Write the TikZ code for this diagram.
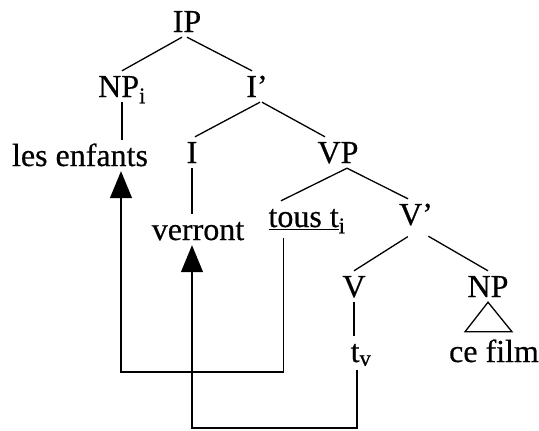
\documentclass[tikz,border=0pt]{standalone}
\usepackage{fontspec}
\setmainfont{Liberation Serif}[FakeBold=0.5]
\usetikzlibrary{positioning,calc,arrows.meta}

\begin{document}
\begin{tikzpicture}[x=1pt, y=-1pt,
    word/.style={font=\fontsize{32}{38}\selectfont, anchor=base, inner xsep=0pt, inner ysep=5pt, text height=21pt, text depth=0pt},
    branch/.style={line width=1.3pt},
    move/.style={line width=1.3pt, -{Triangle[width=22pt,length=27pt]}}]
    \useasboundingbox (0,0) rectangle (539,431);

    % Nodes
    \node[word] (IP) at (187,32) {IP};
    \node[word] (NPi) at (122,97) {NP\textsubscript{i}};
    \node[word] (Ibar) at (257,97) {I’};
    \node[word] (les) at (80,166) {les enfants};
    \node[word] (I) at (192,163) {I};
    \node[word] (VP) at (338,163) {VP};
    \node[word] (verront) at (198,240) {verront};
    \node[word] (tous) at (307,227) {\underline{tous t}\textsubscript{i}};
    \node[word] (Vbar) at (416,225) {V’};
    \node[word] (V) at (354,297) {V};
    \node[word] (NP) at (488,297) {NP};
    \node[word] (tv) at (361,362) {t\textsubscript{v}};
    \node[word] (film) at (494,362) {ce film};

    % Branches
    \draw[branch] ([xshift=-5pt]IP.south) -- (NPi.north);
    \draw[branch] (IP.south) -- ([xshift=-5pt]Ibar.north);
    \draw[branch] ([xshift=3pt]Ibar.south) -- ([xshift=3pt]I.north);
    \draw[branch] ([xshift=5pt]Ibar.south) -- ([xshift=-13pt]VP.north);
    \draw[branch] ([xshift=9pt]VP.south) -- ([xshift=-26pt]tous.north);
    \draw[branch] ([xshift=9pt]VP.south) -- ([xshift=-8pt]Vbar.north);
    \draw[branch, shorten <=12pt] ([xshift=2pt]Vbar.south) -- (V.north);
    \draw[branch, shorten <=12pt] ([xshift=2pt]Vbar.south) -- (NP.north);
    \draw[branch] (NPi.south) -- (NPi.south |- les.north);
    \draw[branch] (I.south) -- (I.south |- verront.north);
    \draw[branch] (V.south) -- (V.south |- tv.north);
    \draw[branch] (NP.south) -- ($(NP.south |- film.north)+(-23,-4)$) -- ($(NP.south |- film.north)+(24,-4)$) -- cycle;

    % Movement
    \coordinate (bend1) at (121,372);
    \coordinate (bend2) at (192,428);
    \draw[move, shorten <=6pt] ([xshift=15pt]tous.south west) |- (bend1) -- (bend1 |- les.south);
    \draw[move, shorten <=3pt] ([xshift=-4pt]tv.south) |- (bend2) -- (bend2 |- verront.south);
\end{tikzpicture}
\end{document}
